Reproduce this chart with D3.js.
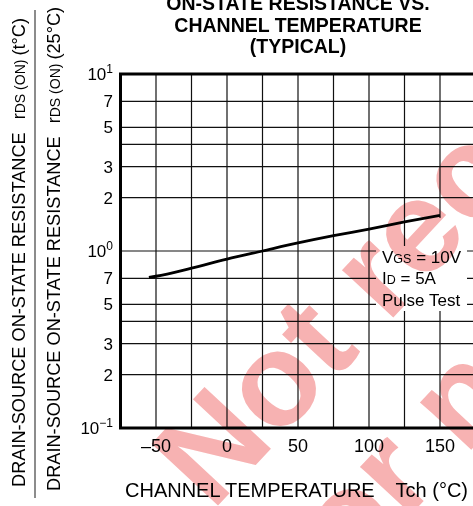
<!DOCTYPE html>
<html>
<head>
  <meta charset="UTF-8">
  <title>rDS(on) vs channel temperature</title>
  <style>
    body { margin: 0; background: #fff; }
    svg { display: block; font-family: "Liberation Sans", Arial, Helvetica, sans-serif; }
  </style>
</head>
<body>
<script src="https://cdn.jsdelivr.net/npm/d3@7"></script>
<script>
// datos
const temps = [-55, -50, -25, 0, 25, 50, 75, 100, 125, 150];
const ratio = [0.71, 0.72, 0.80, 0.90, 1.00, 1.11, 1.22, 1.33, 1.46, 1.59];
const xTicks = [-50, 0, 50, 100, 150];
const xGrid = [-50, -25, 0, 25, 50, 75, 100, 125, 150];
const yGrid = [0.2, 0.3, 0.4, 0.5, 0.7, 1, 2, 3, 4, 5, 7];
const yTicks = [0.1, 0.2, 0.3, 0.5, 0.7, 1, 2, 3, 5, 7, 10];
const yTickBase = ["10", "2", "3", "5", "7", "10", "2", "3", "5", "7", "10"];
const yTickExp = ["−1", "", "", "", "", "0", "", "", "", "", "1"];
const titleLines = ["ON-STATE RESISTANCE VS.", "CHANNEL TEMPERATURE", "(TYPICAL)"];

const width = 473, height = 506;
const svg = d3.select("body").append("svg")
  .attr("width", width).attr("height", height);

// escalas
const x = d3.scaleLinear().domain([-75, 175]).range([120.5, 475.5]);
const y = d3.scaleLog().domain([0.1, 10]).range([428, 74]);

// rejilla
const grid = svg.append("g").attr("stroke", "#111").attr("stroke-width", 1.2);
grid.selectAll("line.v").data(xGrid).enter().append("line")
  .attr("x1", d => x(d)).attr("x2", d => x(d))
  .attr("y1", y(10)).attr("y2", y(0.1));
grid.selectAll("line.h").data(yGrid).enter().append("line")
  .attr("x1", x(-75)).attr("x2", x(175))
  .attr("y1", d => y(d)).attr("y2", d => y(d));

// caja de condiciones (tapa la rejilla)
svg.append("rect").attr("x", 376).attr("y", 246).attr("width", 91).attr("height", 65).attr("fill", "#fff");
svg.append("rect").attr("x", 436).attr("y", 218).attr("width", 8).attr("height", 30).attr("fill", "#fff");

// borde del area
svg.append("path")
  .attr("d", `M${x(175)},${y(10)}H${x(-75)}V${y(0.1)}H${x(175)}`)
  .attr("fill", "none").attr("stroke", "#000").attr("stroke-width", 3);

// curva
const line = d3.line()
  .x((d, i) => x(temps[i]))
  .y(d => y(d))
  .curve(d3.curveMonotoneX);
svg.append("path").datum(ratio)
  .attr("d", line)
  .attr("fill", "none").attr("stroke", "#000").attr("stroke-width", 2.8);

// etiquetas eje x
svg.selectAll("text.xt").data(xTicks).enter().append("text")
  .attr("x", d => x(d)).attr("y", 452)
  .attr("text-anchor", "middle").attr("font-size", "18px")
  .text(d => d < 0 ? "–" + Math.abs(d) : d);

// etiquetas eje y
const yt = svg.selectAll("text.yt").data(yTicks).enter().append("text")
  .attr("x", 113).attr("y", d => y(d) + 6)
  .attr("text-anchor", "end").attr("font-size", "17px");
yt.append("tspan").text((d, i) => yTickBase[i]);
yt.append("tspan").attr("font-size", "12px").attr("dy", "-7")
  .text((d, i) => yTickExp[i]);

// titulo
svg.selectAll("text.title").data(titleLines).enter().append("text")
  .attr("x", 298).attr("y", (d, i) => 10 + i * 21.5)
  .attr("text-anchor", "middle").attr("font-size", "19.5px").attr("font-weight", "bold")
  .text(d => d);

// titulo eje x
svg.append("text").attr("x", 125).attr("y", 497).attr("font-size", "20px")
  .text("CHANNEL TEMPERATURE");
svg.append("text").attr("x", 468).attr("y", 497).attr("font-size", "20px")
  .attr("text-anchor", "end").text("Tch (°C)");

// titulo eje y (fraccion)
function yLabel(cx, start, temp) {
  const t = svg.append("text")
    .attr("transform", `translate(${cx},${start}) rotate(-90)`)
    .attr("font-size", "18.2px");
  t.append("tspan").text("DRAIN-SOURCE ON-STATE RESISTANCE");
  t.append("tspan").attr("dx", 13).text("r");
  t.append("tspan").attr("font-size", "14px").text("DS (ON)");
  t.append("tspan").attr("dx", 4).text("(" + temp + ")");
}
yLabel(25, 487, "t°C");
yLabel(60, 491, "25°C");
svg.append("line").attr("x1", 35).attr("x2", 35).attr("y1", 10).attr("y2", 498)
  .attr("stroke", "#666").attr("stroke-width", 1.5);

// condiciones
const cond = svg.append("g").attr("font-size", "17px");
const c1 = cond.append("text").attr("x", 382).attr("y", 262.5);
c1.append("tspan").text("V");
c1.append("tspan").attr("font-size", "12.5px").text("GS");
c1.append("tspan").text(" = 10V");
const c2 = cond.append("text").attr("x", 382).attr("y", 284);
c2.append("tspan").text("I");
c2.append("tspan").attr("font-size", "12.5px").text("D");
c2.append("tspan").text(" = 5A");
cond.append("text").attr("x", 382).attr("y", 306).text("Pulse Test");

// marca de agua
const wm = svg.append("g").style("mix-blend-mode", "multiply")
  .attr("fill", "#f7b2b2").attr("font-size", "132px").attr("font-weight", "bold");
wm.append("text").attr("transform", "translate(212,512) rotate(-47)").text("Not recommended");
wm.append("text").attr("transform", "translate(320,612) rotate(-47)").text("for new design");
</script>
</body>
</html>
